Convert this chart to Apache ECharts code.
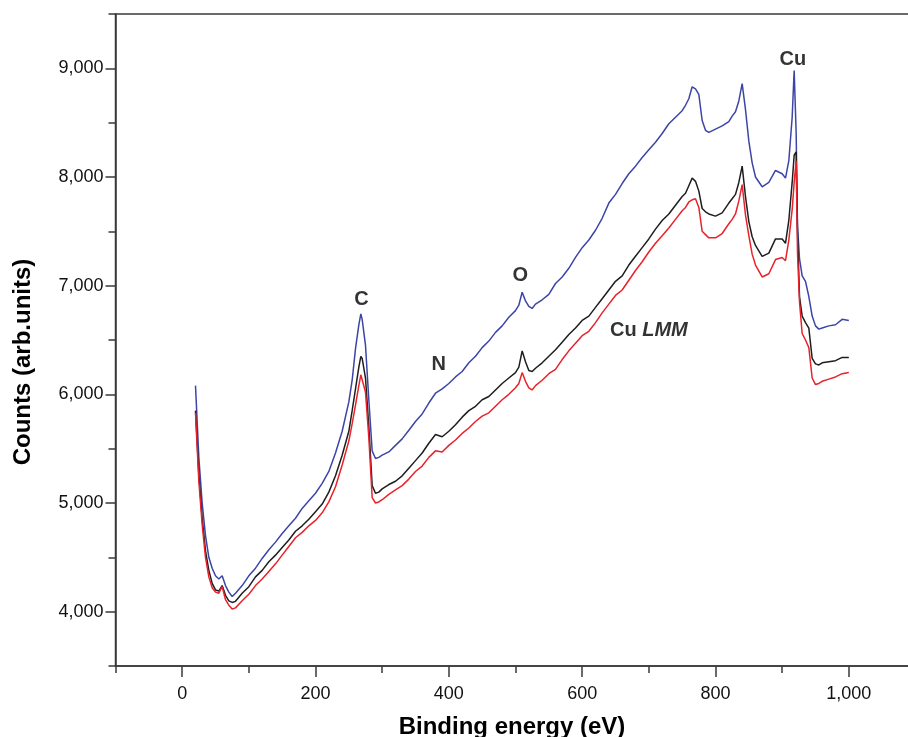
<!DOCTYPE html>
<html><head><meta charset="utf-8">
<script src="https://cdn.jsdelivr.net/npm/echarts@6/dist/echarts.min.js"></script>
<style>html,body{margin:0;padding:0;background:#fff}#c{width:908px;height:737px}</style>
</head><body><div id="c"></div>
<script>
const energy = [20,25,30,35,40,45,50,55,60,65,70,75,80,
  90,100,110,120,130,140,150,160,170,180,190,200,210,220,230,240,250,
  255,260,265,268,270,275,280,285,290,295,
  300,310,320,330,340,350,360,370,380,390,400,410,420,430,440,450,460,470,480,490,500,
  505,510,515,520,525,530,
  540,550,560,570,580,590,600,610,620,630,640,650,660,670,680,690,700,710,720,730,740,750,
  755,760,765,770,775,780,785,790,
  800,810,820,
  825,830,835,840,845,850,855,860,
  870,880,890,900,
  905,910,915,918,921,923,926,930,935,940,945,950,955,960,
  970,980,990,1000];
const blueCounts = [6080,5420,5000,4700,4500,4400,4330,4300,4330,4240,4180,4140,4170,
  4240,4330,4400,4490,4570,4640,4720,4790,4860,4950,5020,5090,5180,5290,5460,5660,5930,
  6130,6420,6640,6740,6690,6450,5950,5480,5410,5420,
  5440,5470,5530,5590,5670,5750,5820,5920,6010,6050,6100,6160,6210,6290,6350,6430,6490,6570,6630,6710,6770,
  6820,6940,6860,6810,6790,6830,
  6870,6920,7020,7080,7160,7260,7350,7420,7510,7620,7760,7840,7940,8030,8100,8180,8250,8320,8400,8490,8550,8610,
  8660,8720,8830,8810,8760,8520,8430,8410,
  8440,8470,8510,
  8560,8600,8700,8860,8620,8330,8130,8000,
  7910,7950,8060,8030,
  7990,8150,8550,8980,8400,7550,7250,7090,7040,6900,6720,6630,6600,6610,
  6630,6640,6690,6680];
const blackCounts = [5850,5260,4860,4560,4380,4260,4200,4190,4240,4150,4100,4085,4095,
  4170,4230,4320,4380,4460,4520,4590,4660,4740,4790,4850,4920,4990,5100,5250,5440,5660,
  5850,6050,6250,6350,6330,6150,5700,5160,5090,5100,
  5130,5170,5200,5250,5320,5390,5460,5550,5630,5610,5660,5720,5790,5850,5890,5950,5980,6040,6100,6150,6200,
  6250,6400,6300,6220,6210,6240,
  6290,6350,6410,6480,6550,6610,6680,6720,6800,6880,6960,7040,7090,7190,7270,7350,7430,7520,7600,7660,7740,7820,
  7850,7920,7990,7960,7870,7710,7680,7660,
  7640,7670,7760,
  7800,7840,7950,8100,7820,7590,7450,7370,
  7270,7300,7430,7430,
  7390,7600,7950,8200,8230,7500,6900,6720,6660,6610,6330,6280,6270,6290,
  6300,6310,6340,6340];
const redCounts = [5830,5200,4800,4500,4320,4220,4180,4170,4230,4110,4060,4025,4035,
  4100,4160,4240,4300,4370,4440,4520,4600,4680,4730,4790,4840,4910,5010,5150,5350,5570,
  5730,5900,6080,6180,6170,6020,5600,5050,5000,5010,
  5030,5080,5120,5160,5220,5290,5340,5420,5480,5470,5530,5580,5640,5690,5750,5800,5830,5890,5950,6000,6060,
  6100,6200,6120,6060,6040,6080,
  6130,6190,6230,6320,6400,6470,6540,6580,6660,6750,6830,6910,6960,7050,7140,7220,7310,7390,7460,7530,7610,7690,
  7720,7770,7790,7800,7720,7500,7470,7440,
  7440,7480,7570,
  7610,7660,7780,7930,7650,7460,7290,7190,
  7080,7110,7240,7260,
  7230,7420,7700,7950,8150,7300,6850,6560,6500,6430,6150,6090,6100,6120,
  6140,6160,6190,6200];
const xMajorTicks = [0,200,400,600,800,1000];
const xMinorTicks = [-100,100,300,500,700,900,1100];
const yMajorTicks = [4000,5000,6000,7000,8000,9000];
const yMinorTicks = [3500,4500,5500,6500,7500,8500,9500];
const annoLabels = ['C','N','O','Cu LMM','Cu'];
const annoX = [269,385,507,700,916];
const annoY = [6877,6274,7093,6583,9077];
const xTitle = 'Binding energy (eV)';
const yTitle = 'Counts (arb.units)';

const FONT = "'Liberation Sans', Arial, sans-serif";
const AX = '#3a3a3a';
const fmt = v => String(v).replace(/\B(?=(\d{3})+(?!\d))/g, ',');
const gridBox = {left:115.5, top:14, width:800, height:652, outerBoundsMode:'none', containLabel:false};
const chart = echarts.init(document.getElementById('c'), null, {renderer:'canvas'});
const pairs = arr => energy.map((e,i)=>[e, arr[i]]);
chart.setOption({
  animation:false,
  backgroundColor:'#fff',
  grid:[Object.assign({show:true, borderColor:AX, borderWidth:1.5, backgroundColor:'transparent'}, gridBox),
        Object.assign({show:false}, gridBox)],
  xAxis:[
    {type:'value', gridIndex:0, min:-100, max:1100, position:'bottom',
     axisLine:{show:true, onZero:false, lineStyle:{color:AX, width:1.5}},
     axisTick:{show:true, length:11, customValues:xMajorTicks, lineStyle:{color:AX, width:1.5}},
     axisLabel:{customValues:xMajorTicks, formatter:fmt, margin:19, fontSize:18, color:'#111', fontFamily:FONT},
     splitLine:{show:false}},
    {type:'value', gridIndex:1, min:-100, max:1100, position:'bottom',
     axisLine:{show:false, onZero:false},
     axisTick:{show:true, length:7, customValues:xMinorTicks, lineStyle:{color:AX, width:1.5}},
     axisLabel:{show:false}, splitLine:{show:false}}
  ],
  yAxis:[
    {type:'value', gridIndex:0, min:3500, max:9500, position:'left',
     axisLine:{show:true, onZero:false, lineStyle:{color:AX, width:1.5}},
     axisTick:{show:true, length:10, customValues:yMajorTicks, lineStyle:{color:AX, width:1.5}},
     axisLabel:{customValues:yMajorTicks, formatter:fmt, margin:12, fontSize:18, color:'#111', fontFamily:FONT},
     splitLine:{show:false}},
    {type:'value', gridIndex:1, min:3500, max:9500, position:'left',
     axisLine:{show:false, onZero:false},
     axisTick:{show:true, length:7, customValues:yMinorTicks, lineStyle:{color:AX, width:1.5}},
     axisLabel:{show:false}, splitLine:{show:false}}
  ],
  graphic:[
    {type:'text', x:512, y:727, style:{text:xTitle, font:"bold 24px 'Liberation Sans', Arial", fill:'#000', align:'center', verticalAlign:'middle'}},
    {type:'text', x:23, y:362, rotation:Math.PI/2, style:{text:yTitle, font:"bold 24px 'Liberation Sans', Arial", fill:'#000', align:'center', verticalAlign:'middle'}}
  ],
  series:[
    {type:'line', xAxisIndex:0, yAxisIndex:0, data:pairs(blueCounts), showSymbol:false, lineStyle:{color:'#3c45a6', width:1.5}, z:2},
    {type:'line', xAxisIndex:0, yAxisIndex:0, data:pairs(blackCounts), showSymbol:false, lineStyle:{color:'#1e1e1e', width:1.5}, z:3},
    {type:'line', xAxisIndex:0, yAxisIndex:0, data:pairs(redCounts), showSymbol:false, lineStyle:{color:'#e8222b', width:1.5}, z:4},
    {type:'scatter', xAxisIndex:0, yAxisIndex:0, symbolSize:1, itemStyle:{color:'rgba(0,0,0,0)'}, silent:true, z:5,
     data:annoX.map((x,i)=>[x, annoY[i], annoLabels[i]]),
     label:{show:true, position:'inside', fontFamily:FONT, color:'#000', textBorderWidth:0, textShadowBlur:0,
       formatter:p => p.value[2]==='Cu LMM' ? '{b|Cu }{bi|LMM}' : '{b|'+p.value[2]+'}',
       rich:{b:{fontWeight:'bold', fontSize:20, color:'#000', textBorderWidth:0, fontFamily:FONT},
             bi:{fontWeight:'bold', fontStyle:'italic', fontSize:20, color:'#000', textBorderWidth:0, fontFamily:FONT}}}}
  ]
});
</script></body></html>
